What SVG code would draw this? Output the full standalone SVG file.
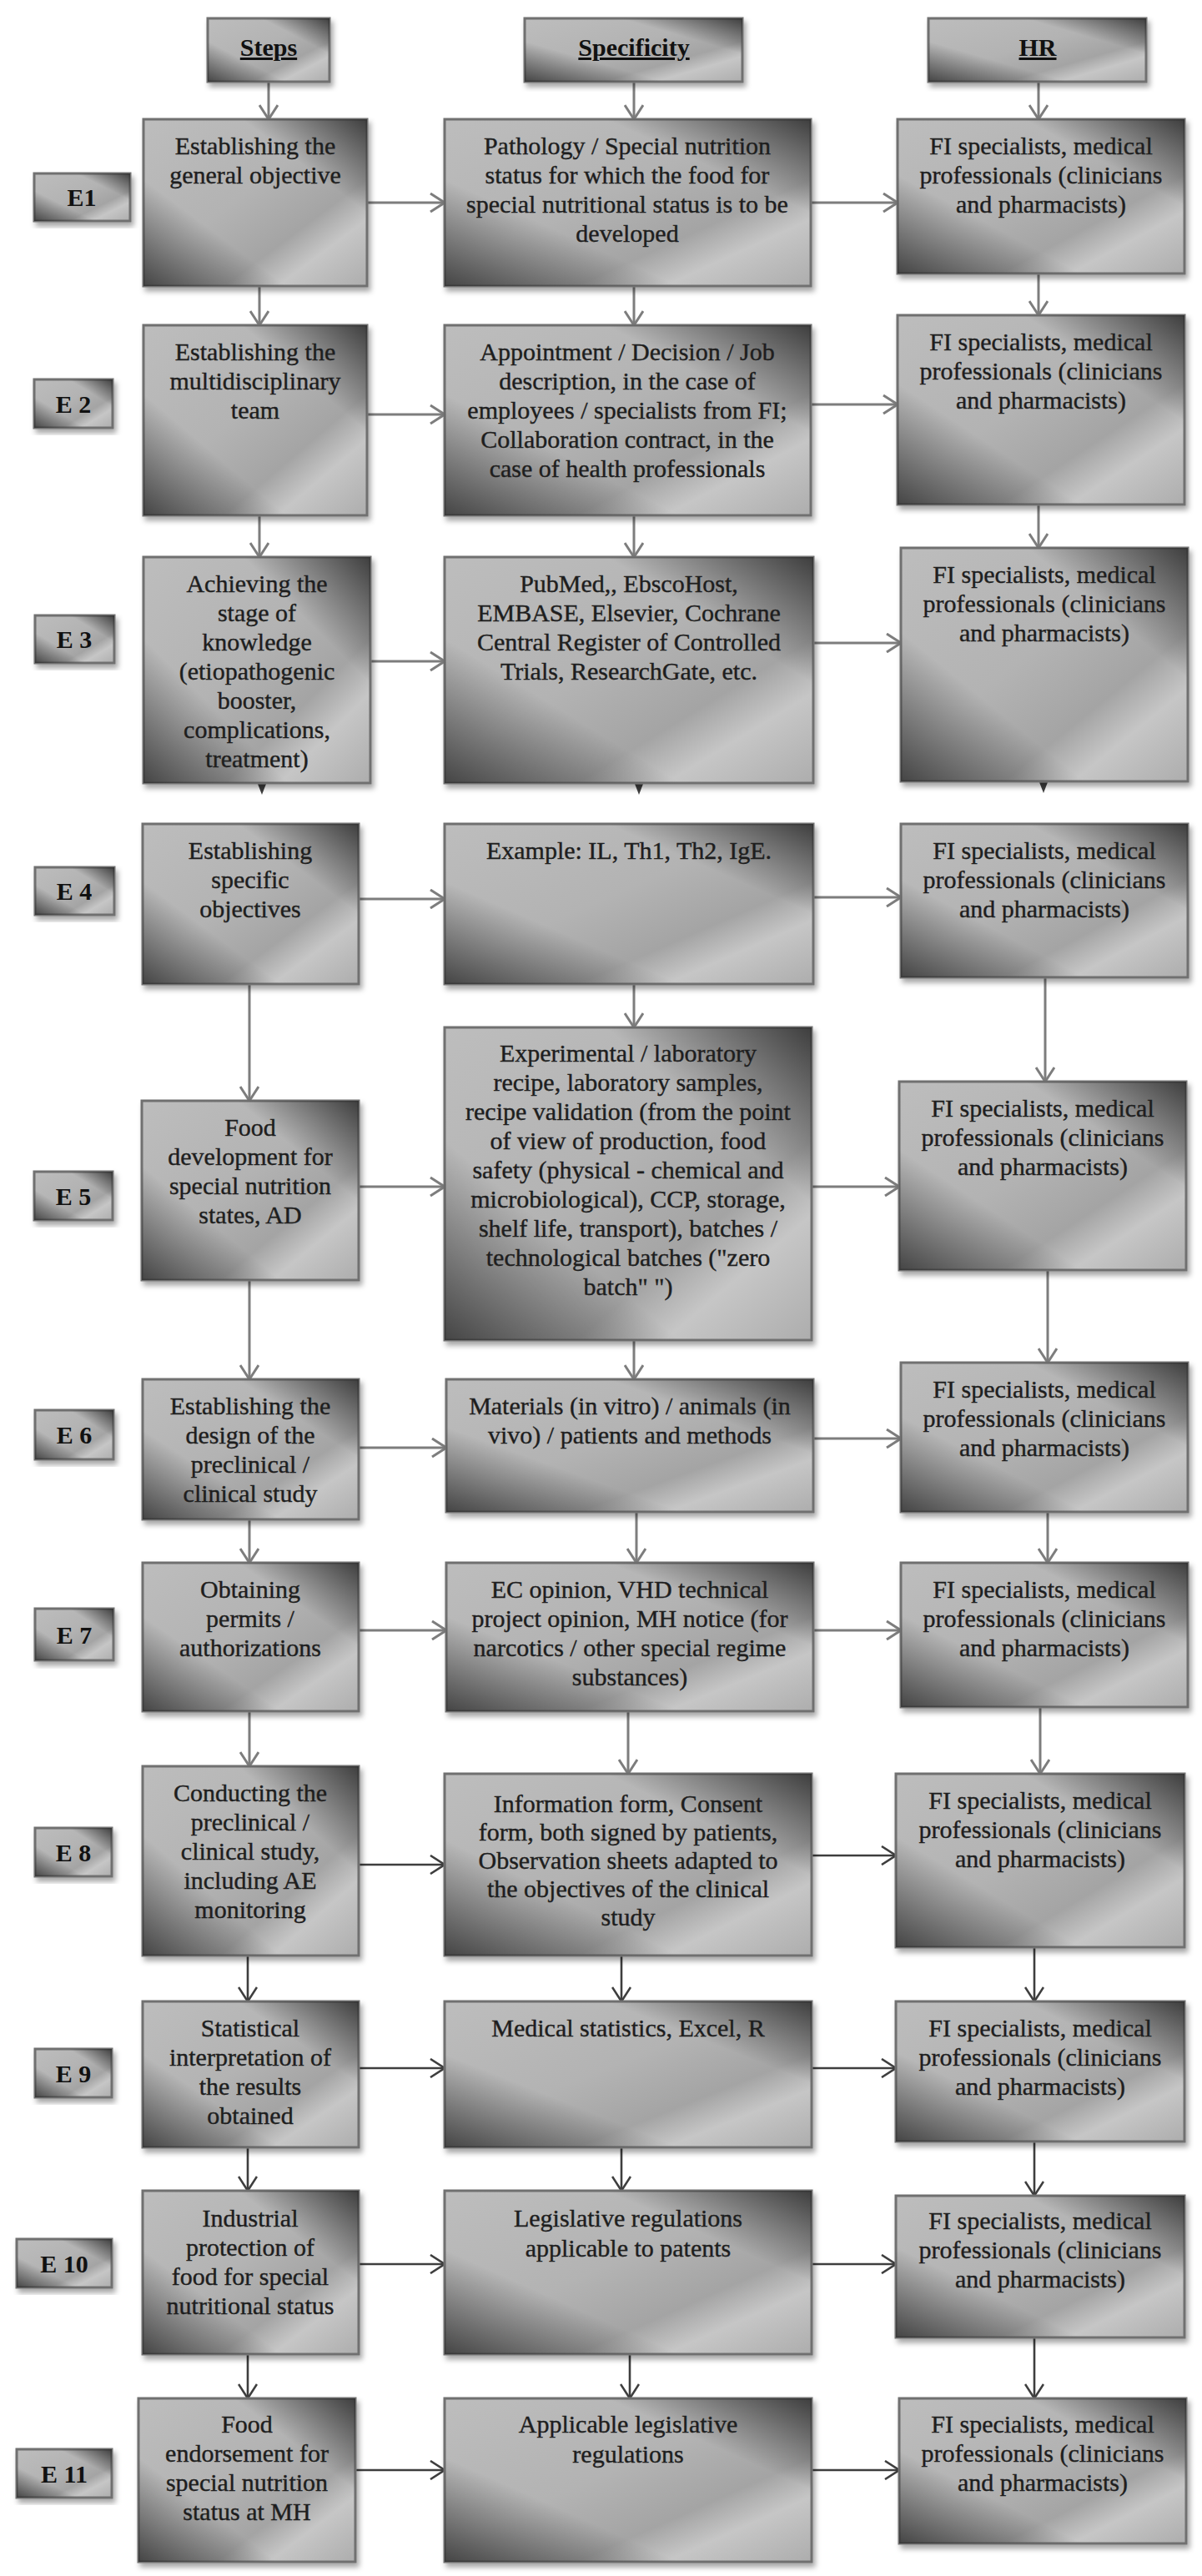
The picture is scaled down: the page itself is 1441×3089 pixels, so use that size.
<svg xmlns="http://www.w3.org/2000/svg" width="1441" height="3089" viewBox="0 0 1441 3089">
<defs>
<linearGradient id="g" x1="0" y1="0" x2="1" y2="1">
<stop offset="0" stop-color="#bdbdbd"/>
<stop offset="0.45" stop-color="#b3b3b3"/>
<stop offset="0.68" stop-color="#a4a4a4"/>
<stop offset="0.8" stop-color="#c6c6c6"/>
<stop offset="1" stop-color="#adadad"/>
</linearGradient>
<linearGradient id="v" x1="1" y1="0" x2="0" y2="1">
<stop offset="0" stop-color="#2a2a2a" stop-opacity="0.85"/>
<stop offset="0.28" stop-color="#2a2a2a" stop-opacity="0"/>
<stop offset="0.68" stop-color="#2a2a2a" stop-opacity="0"/>
<stop offset="1" stop-color="#2a2a2a" stop-opacity="0.8"/>
</linearGradient>
<filter id="sh" x="-10%" y="-10%" width="125%" height="125%">
<feDropShadow dx="3" dy="5" stdDeviation="3" flood-color="#000" flood-opacity="0.35"/>
</filter>
<marker id="ah" viewBox="0 0 20 24" refX="19" refY="12" markerWidth="20" markerHeight="24" markerUnits="userSpaceOnUse" orient="auto">
<path d="M2,1 L19,12 L2,23" fill="none" stroke="#7d7d7d" stroke-width="3"/>
</marker>
<marker id="ahd" viewBox="0 0 20 24" refX="19" refY="12" markerWidth="20" markerHeight="24" markerUnits="userSpaceOnUse" orient="auto">
<path d="M2,1 L19,12 L2,23" fill="none" stroke="#3e3e3e" stroke-width="2.6"/>
</marker>
<style>
.b{fill:url(#g);stroke:#6f6f6f;stroke-width:3;filter:url(#sh)}
.o{fill:url(#v);stroke:none}
.t{font-family:"Liberation Serif","Times New Roman",serif;font-size:30px;fill:#1e1e1e;stroke:#1e1e1e;stroke-width:0.4;text-anchor:middle}
.lb{font-family:"Liberation Serif","Times New Roman",serif;font-size:30px;font-weight:bold;fill:#111;text-anchor:middle}
.hd{font-family:"Liberation Serif","Times New Roman",serif;font-size:30px;font-weight:bold;fill:#111;text-anchor:middle;text-decoration:underline}
.c{fill:none;stroke:#7d7d7d;stroke-width:3;marker-end:url(#ah)}
.cd{fill:none;stroke:#3e3e3e;stroke-width:2.6;marker-end:url(#ahd)}
.tri{fill:#3e3e3e}
</style>
</defs>
<rect width="1441" height="3089" fill="#ffffff"/>

<g id="connectors">
<path class="c" d="M322,98 V143"/>
<path class="c" d="M760,98 V143"/>
<path class="c" d="M1245,98 V143"/>
<path class="c" d="M440,243 H533"/>
<path class="c" d="M972,243 H1076"/>
<path class="c" d="M311,343 V390"/>
<path class="c" d="M760,343 V390"/>
<path class="c" d="M1245,328 V378"/>
<path class="c" d="M440,497 H533"/>
<path class="c" d="M972,485 H1076"/>
<path class="c" d="M311,618 V668"/>
<path class="c" d="M760,618 V668"/>
<path class="c" d="M1245,605 V657"/>
<path class="c" d="M444,793 H533"/>
<path class="c" d="M975,771 H1080"/>
<path class="tri" d="M309,940 L319,940 L314,953 Z"/>
<path class="tri" d="M761,940 L771,940 L766,953 Z"/>
<path class="tri" d="M1246,938 L1256,938 L1251,951 Z"/>
<path class="c" d="M430,1078 H533"/>
<path class="c" d="M975,1076 H1080"/>
<path class="c" d="M299,1180 V1320"/>
<path class="c" d="M760,1180 V1232"/>
<path class="c" d="M1253,1172 V1297"/>
<path class="c" d="M430,1423 H533"/>
<path class="c" d="M973,1423 H1078"/>
<path class="c" d="M299,1535 V1654"/>
<path class="c" d="M760,1607 V1654"/>
<path class="c" d="M1256,1523 V1634"/>
<path class="c" d="M430,1736 H535"/>
<path class="c" d="M975,1725 H1080"/>
<path class="c" d="M299,1822 V1874"/>
<path class="c" d="M763,1813 V1874"/>
<path class="c" d="M1256,1813 V1874"/>
<path class="c" d="M430,1955 H535"/>
<path class="c" d="M975,1955 H1080"/>
<path class="c" d="M299,2052 V2118"/>
<path class="c" d="M753,2052 V2127"/>
<path class="c" d="M1247,2047 V2127"/>
<path class="cd" d="M430,2236 H533"/>
<path class="cd" d="M973,2225 H1074"/>
<path class="cd" d="M297,2345 V2400"/>
<path class="cd" d="M745,2345 V2400"/>
<path class="cd" d="M1240,2335 V2400"/>
<path class="cd" d="M430,2480 H533"/>
<path class="cd" d="M973,2480 H1074"/>
<path class="cd" d="M297,2575 V2627"/>
<path class="cd" d="M745,2575 V2627"/>
<path class="cd" d="M1240,2568 V2633"/>
<path class="cd" d="M430,2715 H533"/>
<path class="cd" d="M973,2715 H1074"/>
<path class="cd" d="M297,2823 V2876"/>
<path class="cd" d="M755,2823 V2876"/>
<path class="cd" d="M1240,2803 V2876"/>
<path class="cd" d="M426,2962 H533"/>
<path class="cd" d="M973,2962 H1078"/>
</g>

<g id="hdr-steps"><rect class="b" x="249" y="22" width="146" height="76"/><rect class="o" x="249" y="22" width="146" height="76"/><text class="hd" x="322" y="67">Steps</text></g>
<g id="hdr-spec"><rect class="b" x="629" y="22" width="261" height="76"/><rect class="o" x="629" y="22" width="261" height="76"/><text class="hd" x="760" y="67">Specificity</text></g>
<g id="hdr-hr"><rect class="b" x="1113" y="22" width="261" height="76"/><rect class="o" x="1113" y="22" width="261" height="76"/><text class="hd" x="1244" y="67">HR</text></g>

<g id="e1"><rect class="b" x="41" y="208" width="115" height="57"/><rect class="o" x="41" y="208" width="115" height="57"/><text class="lb" x="98" y="247">E1</text></g>
<g id="e1-steps"><rect class="b" x="172" y="143" width="268" height="200"/><rect class="o" x="172" y="143" width="268" height="200"/>
<text class="t" x="306" y="185">Establishing the<tspan x="306" dy="35">general objective</tspan></text></g>
<g id="e1-spec"><rect class="b" x="533" y="143" width="439" height="200"/><rect class="o" x="533" y="143" width="439" height="200"/>
<text class="t" x="752" y="185">Pathology / Special nutrition<tspan x="752" dy="35">status for which the food for</tspan><tspan x="752" dy="35">special nutritional status is to be</tspan><tspan x="752" dy="35">developed</tspan></text></g>
<g id="e1-hr"><rect class="b" x="1076" y="143" width="344" height="185"/><rect class="o" x="1076" y="143" width="344" height="185"/>
<text class="t" x="1248" y="185">FI specialists, medical<tspan x="1248" dy="35">professionals (clinicians</tspan><tspan x="1248" dy="35">and pharmacists)</tspan></text></g>

<g id="e2"><rect class="b" x="41" y="455" width="94" height="58"/><rect class="o" x="41" y="455" width="94" height="58"/><text class="lb" x="88" y="495">E 2</text></g>
<g id="e2-steps"><rect class="b" x="172" y="390" width="268" height="228"/><rect class="o" x="172" y="390" width="268" height="228"/>
<text class="t" x="306" y="432">Establishing the<tspan x="306" dy="35">multidisciplinary</tspan><tspan x="306" dy="35">team</tspan></text></g>
<g id="e2-spec"><rect class="b" x="533" y="390" width="439" height="228"/><rect class="o" x="533" y="390" width="439" height="228"/>
<text class="t" x="752" y="432">Appointment / Decision / Job<tspan x="752" dy="35">description, in the case of</tspan><tspan x="752" dy="35">employees / specialists from FI;</tspan><tspan x="752" dy="35">Collaboration contract, in the</tspan><tspan x="752" dy="35">case of health professionals</tspan></text></g>
<g id="e2-hr"><rect class="b" x="1076" y="378" width="344" height="227"/><rect class="o" x="1076" y="378" width="344" height="227"/>
<text class="t" x="1248" y="420">FI specialists, medical<tspan x="1248" dy="35">professionals (clinicians</tspan><tspan x="1248" dy="35">and pharmacists)</tspan></text></g>

<g id="e3"><rect class="b" x="42" y="738" width="95" height="57"/><rect class="o" x="42" y="738" width="95" height="57"/><text class="lb" x="89" y="777">E 3</text></g>
<g id="e3-steps"><rect class="b" x="172" y="668" width="272" height="271"/><rect class="o" x="172" y="668" width="272" height="271"/>
<text class="t" x="308" y="710">Achieving the<tspan x="308" dy="35">stage of</tspan><tspan x="308" dy="35">knowledge</tspan><tspan x="308" dy="35">(etiopathogenic</tspan><tspan x="308" dy="35">booster,</tspan><tspan x="308" dy="35">complications,</tspan><tspan x="308" dy="35">treatment)</tspan></text></g>
<g id="e3-spec"><rect class="b" x="533" y="668" width="442" height="271"/><rect class="o" x="533" y="668" width="442" height="271"/>
<text class="t" x="754" y="710">PubMed,, EbscoHost,<tspan x="754" dy="35">EMBASE, Elsevier, Cochrane</tspan><tspan x="754" dy="35">Central Register of Controlled</tspan><tspan x="754" dy="35">Trials, ResearchGate, etc.</tspan></text></g>
<g id="e3-hr"><rect class="b" x="1080" y="657" width="344" height="280"/><rect class="o" x="1080" y="657" width="344" height="280"/>
<text class="t" x="1252" y="699">FI specialists, medical<tspan x="1252" dy="35">professionals (clinicians</tspan><tspan x="1252" dy="35">and pharmacists)</tspan></text></g>

<g id="e4"><rect class="b" x="42" y="1040" width="95" height="57"/><rect class="o" x="42" y="1040" width="95" height="57"/><text class="lb" x="89" y="1079">E 4</text></g>
<g id="e4-steps"><rect class="b" x="171" y="988" width="259" height="192"/><rect class="o" x="171" y="988" width="259" height="192"/>
<text class="t" x="300" y="1030">Establishing<tspan x="300" dy="35">specific</tspan><tspan x="300" dy="35">objectives</tspan></text></g>
<g id="e4-spec"><rect class="b" x="533" y="988" width="442" height="192"/><rect class="o" x="533" y="988" width="442" height="192"/>
<text class="t" x="754" y="1030">Example: IL, Th1, Th2, IgE.</text></g>
<g id="e4-hr"><rect class="b" x="1080" y="988" width="344" height="184"/><rect class="o" x="1080" y="988" width="344" height="184"/>
<text class="t" x="1252" y="1030">FI specialists, medical<tspan x="1252" dy="35">professionals (clinicians</tspan><tspan x="1252" dy="35">and pharmacists)</tspan></text></g>

<g id="e5"><rect class="b" x="41" y="1405" width="94" height="58"/><rect class="o" x="41" y="1405" width="94" height="58"/><text class="lb" x="88" y="1445">E 5</text></g>
<g id="e5-steps"><rect class="b" x="170" y="1320" width="260" height="215"/><rect class="o" x="170" y="1320" width="260" height="215"/>
<text class="t" x="300" y="1362">Food<tspan x="300" dy="35">development for</tspan><tspan x="300" dy="35">special nutrition</tspan><tspan x="300" dy="35">states, AD</tspan></text></g>
<g id="e5-spec"><rect class="b" x="533" y="1232" width="440" height="375"/><rect class="o" x="533" y="1232" width="440" height="375"/>
<text class="t" x="753" y="1273">Experimental / laboratory<tspan x="753" dy="35">recipe, laboratory samples,</tspan><tspan x="753" dy="35">recipe validation (from the point</tspan><tspan x="753" dy="35">of view of production, food</tspan><tspan x="753" dy="35">safety (physical - chemical and</tspan><tspan x="753" dy="35">microbiological), CCP, storage,</tspan><tspan x="753" dy="35">shelf life, transport), batches /</tspan><tspan x="753" dy="35">technological batches (&quot;zero</tspan><tspan x="753" dy="35">batch&quot; &quot;)</tspan></text></g>
<g id="e5-hr"><rect class="b" x="1078" y="1297" width="344" height="226"/><rect class="o" x="1078" y="1297" width="344" height="226"/>
<text class="t" x="1250" y="1339">FI specialists, medical<tspan x="1250" dy="35">professionals (clinicians</tspan><tspan x="1250" dy="35">and pharmacists)</tspan></text></g>

<g id="e6"><rect class="b" x="42" y="1691" width="94" height="59"/><rect class="o" x="42" y="1691" width="94" height="59"/><text class="lb" x="89" y="1731">E 6</text></g>
<g id="e6-steps"><rect class="b" x="171" y="1654" width="259" height="168"/><rect class="o" x="171" y="1654" width="259" height="168"/>
<text class="t" x="300" y="1696">Establishing the<tspan x="300" dy="35">design of the</tspan><tspan x="300" dy="35">preclinical /</tspan><tspan x="300" dy="35">clinical study</tspan></text></g>
<g id="e6-spec"><rect class="b" x="535" y="1654" width="440" height="159"/><rect class="o" x="535" y="1654" width="440" height="159"/>
<text class="t" x="755" y="1696">Materials (in vitro) / animals (in<tspan x="755" dy="35">vivo) / patients and methods</tspan></text></g>
<g id="e6-hr"><rect class="b" x="1080" y="1634" width="344" height="179"/><rect class="o" x="1080" y="1634" width="344" height="179"/>
<text class="t" x="1252" y="1676">FI specialists, medical<tspan x="1252" dy="35">professionals (clinicians</tspan><tspan x="1252" dy="35">and pharmacists)</tspan></text></g>

<g id="e7"><rect class="b" x="42" y="1929" width="94" height="62"/><rect class="o" x="42" y="1929" width="94" height="62"/><text class="lb" x="89" y="1971">E 7</text></g>
<g id="e7-steps"><rect class="b" x="171" y="1874" width="259" height="178"/><rect class="o" x="171" y="1874" width="259" height="178"/>
<text class="t" x="300" y="1916">Obtaining<tspan x="300" dy="35">permits /</tspan><tspan x="300" dy="35">authorizations</tspan></text></g>
<g id="e7-spec"><rect class="b" x="535" y="1874" width="440" height="178"/><rect class="o" x="535" y="1874" width="440" height="178"/>
<text class="t" x="755" y="1916">EC opinion, VHD technical<tspan x="755" dy="35">project opinion, MH notice (for</tspan><tspan x="755" dy="35">narcotics / other special regime</tspan><tspan x="755" dy="35">substances)</tspan></text></g>
<g id="e7-hr"><rect class="b" x="1080" y="1874" width="344" height="173"/><rect class="o" x="1080" y="1874" width="344" height="173"/>
<text class="t" x="1252" y="1916">FI specialists, medical<tspan x="1252" dy="35">professionals (clinicians</tspan><tspan x="1252" dy="35">and pharmacists)</tspan></text></g>

<g id="e8"><rect class="b" x="42" y="2192" width="92" height="58"/><rect class="o" x="42" y="2192" width="92" height="58"/><text class="lb" x="88" y="2232">E 8</text></g>
<g id="e8-steps"><rect class="b" x="171" y="2118" width="259" height="227"/><rect class="o" x="171" y="2118" width="259" height="227"/>
<text class="t" x="300" y="2160">Conducting the<tspan x="300" dy="35">preclinical /</tspan><tspan x="300" dy="35">clinical study,</tspan><tspan x="300" dy="35">including AE</tspan><tspan x="300" dy="35">monitoring</tspan></text></g>
<g id="e8-spec"><rect class="b" x="533" y="2127" width="440" height="218"/><rect class="o" x="533" y="2127" width="440" height="218"/>
<text class="t" x="753" y="2173">Information form, Consent<tspan x="753" dy="34">form, both signed by patients,</tspan><tspan x="753" dy="34">Observation sheets adapted to</tspan><tspan x="753" dy="34">the objectives of the clinical</tspan><tspan x="753" dy="34">study</tspan></text></g>
<g id="e8-hr"><rect class="b" x="1074" y="2127" width="346" height="208"/><rect class="o" x="1074" y="2127" width="346" height="208"/>
<text class="t" x="1247" y="2169">FI specialists, medical<tspan x="1247" dy="35">professionals (clinicians</tspan><tspan x="1247" dy="35">and pharmacists)</tspan></text></g>

<g id="e9"><rect class="b" x="42" y="2457" width="92" height="58"/><rect class="o" x="42" y="2457" width="92" height="58"/><text class="lb" x="88" y="2497">E 9</text></g>
<g id="e9-steps"><rect class="b" x="171" y="2400" width="259" height="175"/><rect class="o" x="171" y="2400" width="259" height="175"/>
<text class="t" x="300" y="2442">Statistical<tspan x="300" dy="35">interpretation of</tspan><tspan x="300" dy="35">the results</tspan><tspan x="300" dy="35">obtained</tspan></text></g>
<g id="e9-spec"><rect class="b" x="533" y="2400" width="440" height="175"/><rect class="o" x="533" y="2400" width="440" height="175"/>
<text class="t" x="753" y="2442">Medical statistics, Excel, R</text></g>
<g id="e9-hr"><rect class="b" x="1074" y="2400" width="346" height="168"/><rect class="o" x="1074" y="2400" width="346" height="168"/>
<text class="t" x="1247" y="2442">FI specialists, medical<tspan x="1247" dy="35">professionals (clinicians</tspan><tspan x="1247" dy="35">and pharmacists)</tspan></text></g>

<g id="e10"><rect class="b" x="20" y="2685" width="114" height="58"/><rect class="o" x="20" y="2685" width="114" height="58"/><text class="lb" x="77" y="2725">E 10</text></g>
<g id="e10-steps"><rect class="b" x="171" y="2627" width="259" height="196"/><rect class="o" x="171" y="2627" width="259" height="196"/>
<text class="t" x="300" y="2670">Industrial<tspan x="300" dy="35">protection of</tspan><tspan x="300" dy="35">food for special</tspan><tspan x="300" dy="35">nutritional status</tspan></text></g>
<g id="e10-spec"><rect class="b" x="533" y="2627" width="440" height="196"/><rect class="o" x="533" y="2627" width="440" height="196"/>
<text class="t" x="753" y="2670">Legislative regulations<tspan x="753" dy="36">applicable to patents</tspan></text></g>
<g id="e10-hr"><rect class="b" x="1074" y="2633" width="346" height="170"/><rect class="o" x="1074" y="2633" width="346" height="170"/>
<text class="t" x="1247" y="2673">FI specialists, medical<tspan x="1247" dy="35">professionals (clinicians</tspan><tspan x="1247" dy="35">and pharmacists)</tspan></text></g>

<g id="e11"><rect class="b" x="20" y="2937" width="114" height="58"/><rect class="o" x="20" y="2937" width="114" height="58"/><text class="lb" x="77" y="2977">E 11</text></g>
<g id="e11-steps"><rect class="b" x="166" y="2876" width="260" height="196"/><rect class="o" x="166" y="2876" width="260" height="196"/>
<text class="t" x="296" y="2917">Food<tspan x="296" dy="35">endorsement for</tspan><tspan x="296" dy="35">special nutrition</tspan><tspan x="296" dy="35">status at MH</tspan></text></g>
<g id="e11-spec"><rect class="b" x="533" y="2876" width="440" height="196"/><rect class="o" x="533" y="2876" width="440" height="196"/>
<text class="t" x="753" y="2917">Applicable legislative<tspan x="753" dy="36">regulations</tspan></text></g>
<g id="e11-hr"><rect class="b" x="1078" y="2876" width="344" height="174"/><rect class="o" x="1078" y="2876" width="344" height="174"/>
<text class="t" x="1250" y="2917">FI specialists, medical<tspan x="1250" dy="35">professionals (clinicians</tspan><tspan x="1250" dy="35">and pharmacists)</tspan></text></g>
</svg>
